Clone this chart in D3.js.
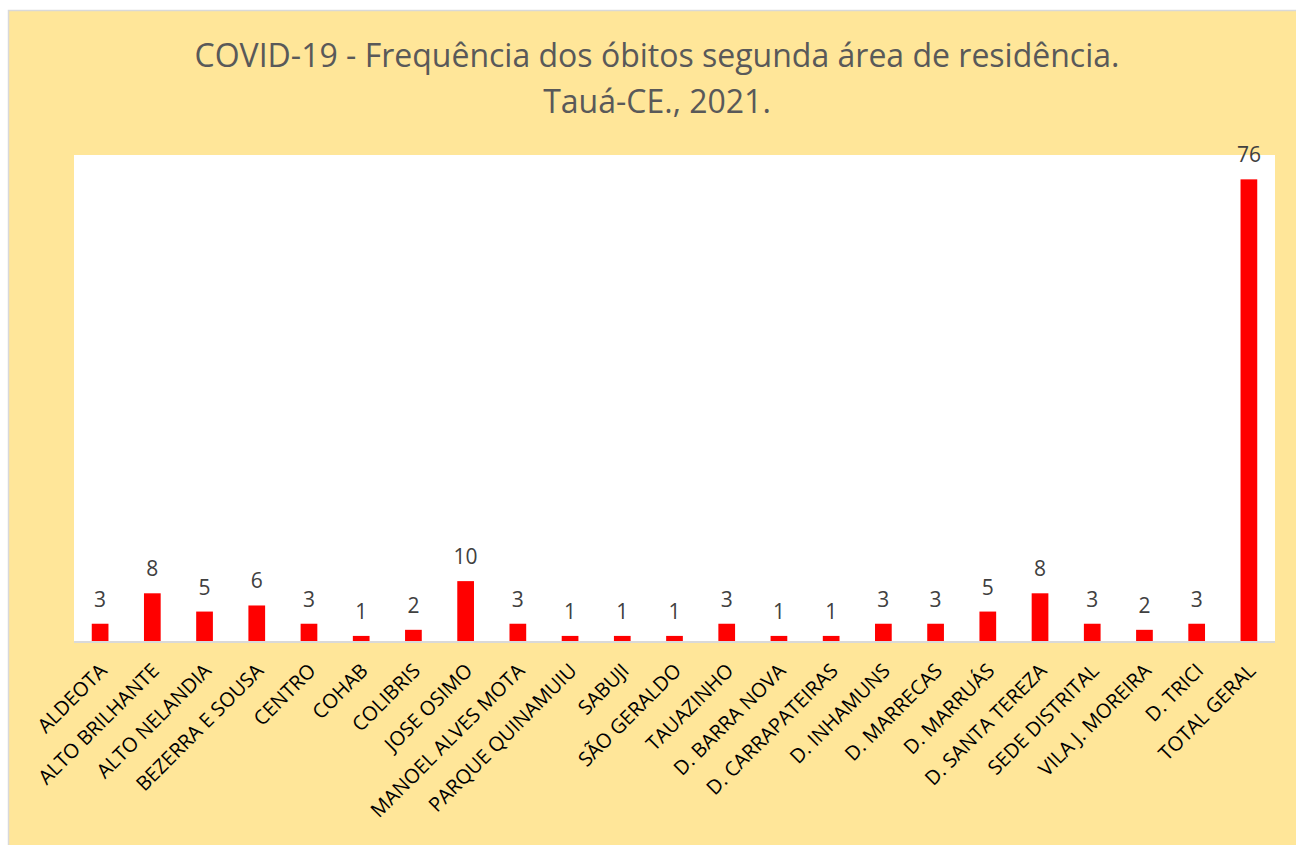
<!DOCTYPE html>
<html>
<head>
<meta charset="utf-8">
<script src="https://cdn.jsdelivr.net/npm/d3@7"></script>
<style>
  body { margin: 0; background: #fff; }
  svg { display: block; }
</style>
</head>
<body>
<script>
// data
const areas = ['ALDEOTA', 'ALTO BRILHANTE', 'ALTO NELANDIA', 'BEZERRA E SOUSA', 'CENTRO', 'COHAB',
  'COLIBRIS', 'JOSE OSIMO', 'MANOEL ALVES MOTA', 'PARQUE QUINAMUIU', 'SABUJI', 'SÃO GERALDO',
  'TAUAZINHO', 'D. BARRA NOVA', 'D. CARRAPATEIRAS', 'D. INHAMUNS', 'D. MARRECAS', 'D. MARRUÁS',
  'D. SANTA TEREZA', 'SEDE DISTRITAL', 'VILA J. MOREIRA', 'D. TRICI', 'TOTAL GERAL'];
const obitos = [3, 8, 5, 6, 3, 1, 2, 10, 3, 1, 1, 1, 3, 1, 1, 3, 3, 5, 8, 3, 2, 3, 76];
const titleLines = ['COVID-19 - Frequência dos óbitos segunda área de residência.', 'Tauá-CE., 2021.'];

const W = 1296, H = 845;
const plot = {left: 74, right: 1275, top: 155, bottom: 642};
const font = "'Open Sans', sans-serif";

const svg = d3.select('body').append('svg')
  .attr('width', W).attr('height', H);

// chart area (yellow) with grey border
svg.append('rect')
  .attr('x', 8.5).attr('y', 10.5)
  .attr('width', W + 10).attr('height', H + 10)
  .attr('fill', '#ffe699')
  .attr('stroke', '#d9d9d9').attr('stroke-width', 1.5);

svg.append('rect')
  .attr('x', plot.left).attr('y', plot.top)
  .attr('width', plot.right - plot.left).attr('height', plot.bottom - plot.top)
  .attr('fill', '#fff');

const x = d3.scaleBand().domain(areas).range([plot.left, plot.right]).paddingInner(0.68).paddingOuter(0.34);
const y = d3.scaleLinear().domain([0, 80]).range([plot.bottom, plot.top]);

svg.append('g')
  .selectAll('text')
  .data(titleLines)
  .enter().append('text')
  .attr('x', 657)
  .attr('y', (d, i) => 67 + i * 46)
  .attr('text-anchor', 'middle')
  .attr('font-family', font)
  .attr('font-size', 32)
  .attr('fill', '#595959')
  .text(d => d);

svg.append('g').selectAll('rect')
  .data(obitos)
  .enter().append('rect')
  .attr('x', (d, i) => x(areas[i]))
  .attr('y', d => y(d))
  .attr('width', x.bandwidth())
  .attr('height', d => y(0) - y(d))
  .attr('fill', '#ff0000');

svg.append('g').selectAll('text')
  .data(obitos)
  .enter().append('text')
  .attr('x', (d, i) => x(areas[i]) + x.bandwidth() / 2)
  .attr('y', d => y(d) - 17)
  .attr('text-anchor', 'middle')
  .attr('font-family', font)
  .attr('font-size', 21)
  .attr('fill', '#404040')
  .text(d => d);

// x axis
const xAxis = svg.append('g')
  .attr('transform', 'translate(0,' + plot.bottom + ')')
  .call(d3.axisBottom(x).tickSize(0).tickPadding(0));
xAxis.select('.domain').attr('stroke', '#d9d9d9').attr('stroke-width', 2)
  .attr('d', 'M' + plot.left + ',0H' + plot.right);
xAxis.selectAll('text')
  .attr('font-family', font)
  .attr('font-size', 20)
  .attr('fill', '#000')
  .attr('text-anchor', 'end')
  .attr('dy', null)
  .attr('y', 0)
  .attr('transform', 'translate(8,30) rotate(-45)');
</script>
</body>
</html>
